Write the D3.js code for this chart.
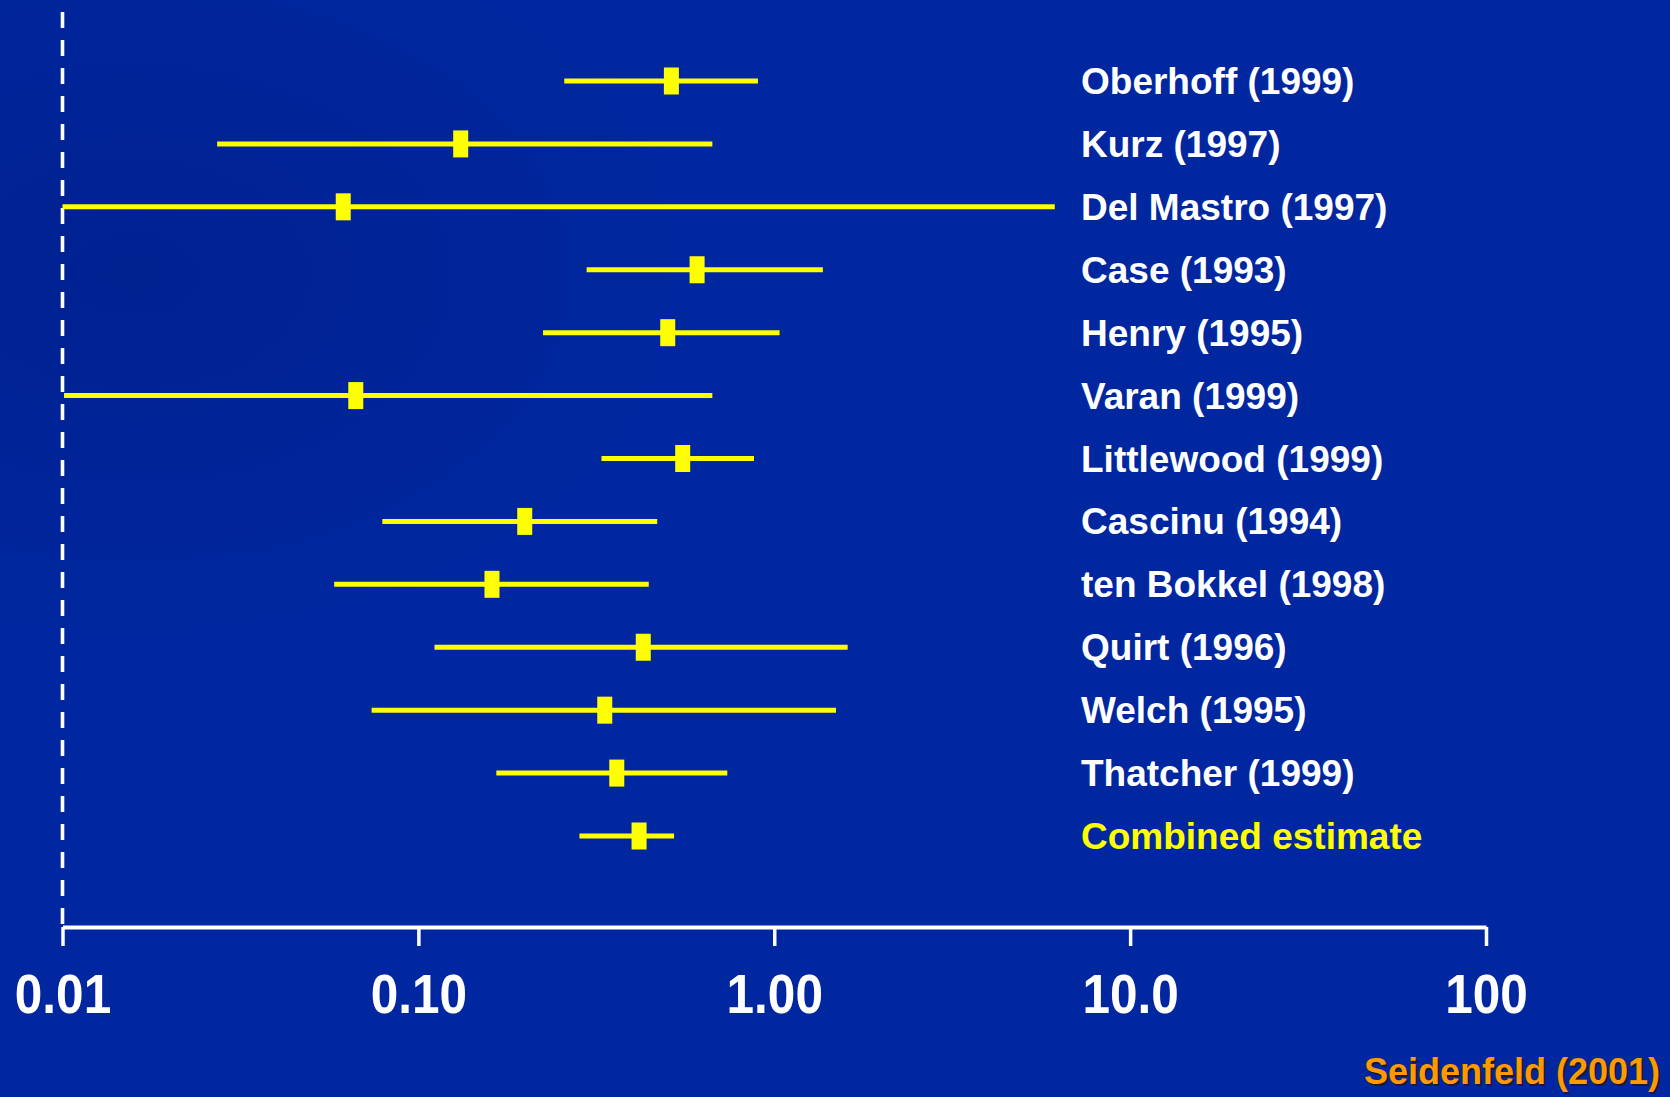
<!DOCTYPE html>
<html>
<head>
<meta charset="utf-8">
<script src="https://cdn.jsdelivr.net/npm/d3@7"></script>
<style>
  html, body { margin: 0; padding: 0; background: #0027a0; }
  svg { display: block; }
</style>
</head>
<body>
<svg id="chart" width="1670" height="1097"></svg>
<script>
// ---- Data (odds ratios with 95% CI) ----
const studies = [
  "Oberhoff (1999)", "Kurz (1997)", "Del Mastro (1997)", "Case (1993)",
  "Henry (1995)", "Varan (1999)", "Littlewood (1999)", "Cascinu (1994)",
  "ten Bokkel (1998)", "Quirt (1996)", "Welch (1995)", "Thatcher (1999)",
  "Combined estimate"
];
const estimates = [0.514, 0.1315, 0.0615, 0.607, 0.502, 0.0667, 0.553, 0.199, 0.161, 0.4285, 0.334, 0.361, 0.417];
const lowerCI   = [0.257, 0.0272, 0.0100, 0.297, 0.224, 0.0101, 0.327, 0.0792, 0.058, 0.111, 0.0739, 0.1656, 0.2835];
const upperCI   = [0.90, 0.67, 6.14, 1.37, 1.035, 0.67, 0.877, 0.469, 0.444, 1.608, 1.491, 0.738, 0.523];
const tickValues = [0.01, 0.1, 1, 10, 100];
const tickLabels = ["0.01", "0.10", "1.00", "10.0", "100"];
const sourceNote = "Seidenfeld (2001)";

const rows = studies.map((s, i) => ({ name: s, est: estimates[i], lo: lowerCI[i], hi: upperCI[i], combined: i === studies.length - 1 }));

const svg = d3.select("#chart");
const W = 1670, H = 1097;

// background with faint darker texture in upper-left
const defs = svg.append("defs");
const rg = defs.append("radialGradient").attr("id", "tex").attr("cx", "0.08").attr("cy", "0.25").attr("r", "0.35");
rg.append("stop").attr("offset", "0").attr("stop-color", "#001a80").attr("stop-opacity", 0.5);
rg.append("stop").attr("offset", "1").attr("stop-color", "#001a80").attr("stop-opacity", 0);
svg.append("rect").attr("width", W).attr("height", H).attr("fill", "#0027a0");
svg.append("rect").attr("width", W).attr("height", H).attr("fill", "url(#tex)");

const x = d3.scaleLog().domain([0.01, 100]).range([62.5, 1486]);
const y = d3.scalePoint().domain(studies).range([81, 836]);
const axisY = 927;

// reference dashed line at 0.01
svg.append("line")
  .attr("x1", x(0.01)).attr("x2", x(0.01))
  .attr("y1", 12).attr("y2", axisY)
  .attr("stroke", "#ffffff").attr("stroke-width", 3.6)
  .attr("stroke-dasharray", "16 12");

// axis
const axis = d3.axisBottom(x)
  .tickValues(tickValues)
  .tickFormat((d, i) => tickLabels[i])
  .tickSize(19)
  .tickSizeOuter(0);
const gAxis = svg.append("g").attr("transform", `translate(0,${axisY})`).call(axis);
gAxis.select(".domain").attr("stroke", "#ffffff").attr("stroke-width", 4);
gAxis.selectAll(".tick line").attr("stroke", "#ffffff").attr("stroke-width", 3.5);
gAxis.selectAll(".tick text")
  .attr("fill", "#ffffff")
  .attr("y", 86).attr("dy", 0)
  .attr("transform", "scale(0.9,1)")
  .style("font-family", "'Liberation Sans', Arial, sans-serif")
  .style("font-weight", "bold")
  .style("font-size", "55px");

// CI lines
const g = svg.append("g");
g.selectAll("line.ci").data(rows).join("line")
  .attr("class", "ci")
  .attr("x1", d => x(d.lo)).attr("x2", d => x(d.hi))
  .attr("y1", d => y(d.name)).attr("y2", d => y(d.name))
  .attr("stroke", "#ffff00").attr("stroke-width", 5);

// point estimate markers
const mw = 15, mh = 27;
g.selectAll("rect.est").data(rows).join("rect")
  .attr("class", "est")
  .attr("x", d => x(d.est) - mw / 2).attr("y", d => y(d.name) - mh / 2)
  .attr("width", mw).attr("height", mh)
  .attr("fill", "#ffff00");

// study labels
g.selectAll("text.lbl").data(rows).join("text")
  .attr("class", "lbl")
  .attr("x", 1081).attr("y", d => y(d.name) + 13)
  .attr("fill", d => d.combined ? "#ffff00" : "#ffffff")
  .style("font-family", "'Liberation Sans', Arial, sans-serif")
  .style("font-weight", "bold")
  .style("font-size", "37px")
  .text(d => d.name);

// source note with shadow
svg.append("text")
  .attr("x", 1662).attr("y", 1086).attr("text-anchor", "end")
  .attr("fill", "#1a1a1a").attr("opacity", 0.85)
  .style("font-family", "'Liberation Sans', Arial, sans-serif")
  .style("font-weight", "bold").style("font-size", "36px")
  .text(sourceNote);
svg.append("text")
  .attr("x", 1660).attr("y", 1084).attr("text-anchor", "end")
  .attr("fill", "#ff9900")
  .style("font-family", "'Liberation Sans', Arial, sans-serif")
  .style("font-weight", "bold").style("font-size", "36px")
  .text(sourceNote);
</script>
</body>
</html>
